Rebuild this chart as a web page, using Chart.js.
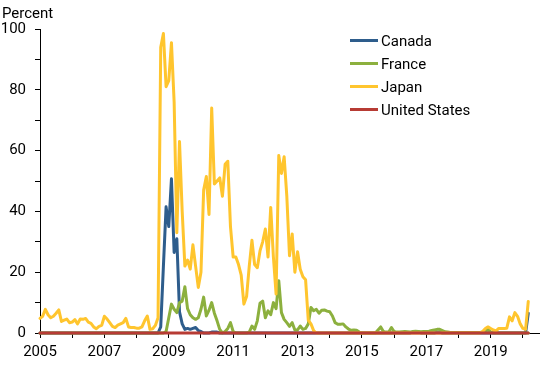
<!DOCTYPE html>
<html>
<head>
<meta charset="utf-8">
<script src="https://cdn.jsdelivr.net/npm/chart.js@4"></script>
<style>
  body { margin: 0; background: #fff; }
  canvas { display: block; }
</style>
</head>
<body>
<canvas id="myChart" width="550" height="365"></canvas>
<script>
// monthly series, Jan 2005 .. Mar 2020, one row per year
const startYear = 2005;
const seriesNames = ["Canada", "France", "Japan", "United States"];
const seriesColors = ["#2E5D8C", "#8CB03E", "#FFC52E", "#B73B34"];
const yearLabels = [2005, 2007, 2009, 2011, 2013, 2015, 2017, 2019];
const yLabels = [0, 20, 40, 60, 80, 100];

const canada = [
  0, 0, 0, 0, 0, 0, 0, 0, 0, 0, 0, 0,
  0, 0, 0, 0, 0, 0, 0, 0, 0, 0, 0, 0,
  0, 0, 0, 0, 0, 0, 0, 0, 0, 0, 0, 0,
  0, 0, 0, 0, 0, 0, 0, 0, 0, 2, 22, 41.5,
  35, 50.7, 26.5, 31, 7, 3, 1.2, 1.5, 1.2, 1.5, 1.8, 0.8,
  0.5, 0, 0, 0, 0.3, 0.3, 0.3, 0, 0, 0, 0, 0,
  0, 0, 0, 0, 0, 0, 0, 0, 0, 0, 0, 0,
  0, 0, 0, 0, 0, 0, 0, 0, 0, 0, 0, 0,
  0, 0, 0, 0, 0, 0, 0, 0, 0, 0, 0, 0,
  0, 0, 0, 0, 0, 0, 0, 0, 0, 0, 0, 0,
  0, 0, 0, 0, 0, 0, 0, 0, 0, 0, 0, 0,
  0, 0, 0, 0, 0, 0, 0, 0.4, 0.4, 0.4, 0, 0,
  0, 0, 0, 0, 0.3, 0.3, 0, 0, 0, 0, 0, 0,
  0, 0, 0, 0, 0, 0, 0, 0, 0, 0, 0, 0,
  0, 0, 0, 0, 0, 0, 0, 0, 0, 0, 0, 0,
  0, 0, 6.5
];

const france = [
  0, 0, 0, 0, 0, 0, 0, 0, 0, 0, 0, 0,
  0, 0, 0, 0, 0, 0, 0, 0, 0, 0, 0, 0,
  0, 0, 0, 0, 0, 0, 0, 0, 0, 0, 0, 0,
  0, 0, 0, 0, 0, 0, 0, 0, 0, 0, 0, 0.5,
  5, 9.5, 7.8, 6.7, 10, 10.5, 15.2, 8, 6, 5, 4.5, 5,
  7.8, 11.8, 5.6, 7.5, 10, 6.5, 4, 1.2, 0, 0.5, 1.5, 3.4,
  0.5, 0, 0, 0, 0, 0, 0.3, 2.3, 1.2, 4, 9.8, 10.5,
  5, 7.3, 6, 10, 8, 17.2, 6.7, 4.5, 3.4, 2.2, 3.4, 1,
  1, 2.3, 1.2, 1.5, 3, 8.4, 7.3, 7.8, 6.5, 7.5, 7.6, 7.2,
  7, 5.6, 3.4, 2.9, 2.9, 3, 2, 1.3, 0.9, 1, 0.9, 0.3,
  0, 0, 0, 0, 0, 0, 1, 2, 0.5, 0.3, 0.3, 1.8,
  0.5, 0.3, 0.3, 0.4, 0.5, 0.4, 0.3, 0.5, 0.6, 0.5, 0.4, 0.5,
  0.5, 0.6, 0.8, 1, 1.2, 1.2, 0.8, 0.4, 0.3, 0.2, 0.2, 0.2,
  0.2, 0.2, 0.2, 0.2, 0.2, 0.2, 0.2, 0.2, 0.2, 0.3, 0.5, 1.2,
  0.3, 0, 0, 0, 0, 0, 0, 0, 0, 0, 0, 0,
  0, 0, 0
];

const japan = [
  4.8, 5.5, 7.8, 6.0, 5.0, 5.5, 6.5, 7.6, 3.8, 4.2, 4.6, 3.4,
  3.6, 4.4, 3.0, 4.6, 4.5, 4.8, 3.6, 3.2, 2.0, 1.4, 2.2, 2.5,
  5.5, 4.6, 3.4, 2.2, 1.8, 2.6, 3.0, 3.4, 4.8, 2.0, 1.8, 1.8,
  1.6, 1.6, 2.0, 4.0, 5.6, 1.2, 1.4, 2.5, 5.0, 94, 98.5, 81,
  83, 95.5, 76, 33, 63, 40, 22, 24, 21, 29, 22, 15,
  20, 47, 51.5, 39, 74, 49, 50, 51, 45, 55.5, 56.5, 35,
  25, 25, 22.5, 19, 9.5, 12, 22, 30.5, 22.5, 21.5, 27, 30,
  34.2, 25, 41.3, 25, 12.8, 58.4, 52.5, 58, 45, 25.4, 32.6, 20,
  26.7, 21, 18.5, 17.5, 4.2, 3, 0.8, 0, 0, 0, 0, 0,
  0, 0, 0, 0, 0, 0, 0, 0, 0, 0, 0, 0,
  0, 0, 0, 0, 0, 0, 0, 0, 0, 0, 0, 0,
  0, 0, 0, 0, 0, 0, 0, 0, 0, 0, 0, 0,
  0, 0, 0, 0, 0, 0, 0, 0, 0, 0, 0, 0,
  0, 0, 0, 0, 0, 0, 0, 0, 0, 0.5, 1.5, 2,
  1.5, 1.0, 0.7, 1.5, 1.5, 1.5, 1.6, 5.3, 4, 6.7, 5.5, 3.0,
  1.5, 1.2, 10.4
];

const unitedStates = [
  0, 0, 0, 0, 0, 0, 0, 0, 0, 0, 0, 0,
  0, 0, 0, 0, 0, 0, 0, 0, 0, 0, 0, 0,
  0, 0, 0, 0, 0, 0, 0, 0, 0, 0, 0, 0,
  0, 0, 0, 0, 0, 0, 0, 0, 0, 0, 0, 0,
  0, 0, 0, 0, 0, 0, 0, 0, 0, 0, 0, 0,
  0, 0, 0, 0, 0, 0, 0, 0, 0, 0, 0, 0,
  0, 0, 0, 0, 0, 0, 0, 0, 0, 0, 0, 0,
  0, 0, 0, 0, 0, 0, 0, 0, 0, 0, 0, 0,
  0, 0, 0, 0, 0, 0, 0, 0, 0, 0, 0, 0,
  0, 0, 0, 0, 0, 0, 0, 0, 0, 0, 0, 0,
  0, 0, 0, 0, 0, 0, 0, 0, 0, 0, 0, 0,
  0, 0, 0, 0, 0, 0, 0, 0, 0, 0, 0, 0,
  0, 0, 0, 0, 0, 0, 0, 0, 0, 0, 0, 0,
  0, 0, 0, 0, 0, 0, 0, 0, 0, 0, 0, 0,
  0, 0, 0, 0, 0, 0, 0, 0, 0, 0, 0, 0,
  0, 0, 0
];

// month positions as decimal years
const months = japan.map((_, i) => startYear + i / 12);

const allSeries = [canada, france, japan, unitedStates];

const FONT = { family: 'Roboto', size: 15 };

// legend drawn inside the plot, top right
const insideLegend = {
    id: 'insideLegend',
    afterDraw(chart) {
        const ctx = chart.ctx;
        ctx.save();
        ctx.font = '15px Roboto';
        ctx.fillStyle = '#000';
        ctx.textBaseline = 'alphabetic';
        ctx.textAlign = 'left';
        chart.data.datasets.forEach((ds, i) => {
            const y = 40.5 + i * 23;
            ctx.strokeStyle = ds.borderColor;
            ctx.lineWidth = 3;
            ctx.beginPath();
            ctx.moveTo(350, y);
            ctx.lineTo(378, y);
            ctx.stroke();
            ctx.fillText(ds.label, 381, y + 5);
        });
        ctx.restore();
    }
};

const ctx = document.getElementById('myChart').getContext('2d');
const myChart = new Chart(ctx, {
    type: 'line',
    data: {
        datasets: allSeries.map((vals, i) => ({
            label: seriesNames[i],
            data: vals.map((v, j) => ({ x: months[j], y: v })),
            borderColor: seriesColors[i],
            backgroundColor: seriesColors[i],
            borderWidth: 3,
            pointRadius: 0,
            tension: 0,
            borderJoinStyle: 'round',
            borderCapStyle: 'round',
            clip: false,
            order: 3 - i,
        }))
    },
    options: {
        responsive: false,
        animation: false,
        devicePixelRatio: 1,
        layout: { padding: { left: 2, right: 11, top: 0, bottom: 0 } },
        plugins: {
            legend: { display: false },
            tooltip: { enabled: false },
            title: {
                display: true,
                text: 'Percent',
                align: 'start',
                color: '#000',
                font: { family: 'Roboto', size: 15, weight: 'normal' },
                padding: { top: 5, bottom: 6 }
            }
        },
        scales: {
            x: {
                type: 'linear',
                min: 2005,
                max: 2020.5,
                afterFit: (scale) => { scale.height = 32; },
                ticks: {
                    stepSize: 1,
                    includeBounds: false,
                    autoSkip: false,
                    maxRotation: 0,
                    padding: 5,
                    color: '#000',
                    font: FONT,
                    callback: (v) => yearLabels.includes(v) ? String(v) : ''
                },
                grid: {
                    drawOnChartArea: false,
                    drawTicks: true,
                    tickLength: 5,
                    tickColor: '#000'
                },
                border: { display: true, color: '#000', width: 1 }
            },
            y: {
                min: 0,
                max: 100,
                afterFit: (scale) => { scale.width = 38; },
                ticks: {
                    stepSize: 10,
                    padding: 9,
                    color: '#000',
                    font: FONT,
                    callback: (v) => yLabels.includes(v) ? String(v) : ''
                },
                grid: {
                    drawOnChartArea: false,
                    drawTicks: true,
                    tickLength: 5,
                    tickColor: '#000'
                },
                border: { display: true, color: '#000', width: 1 }
            }
        }
    },
    plugins: [insideLegend]
});
</script>
</body>
</html>
